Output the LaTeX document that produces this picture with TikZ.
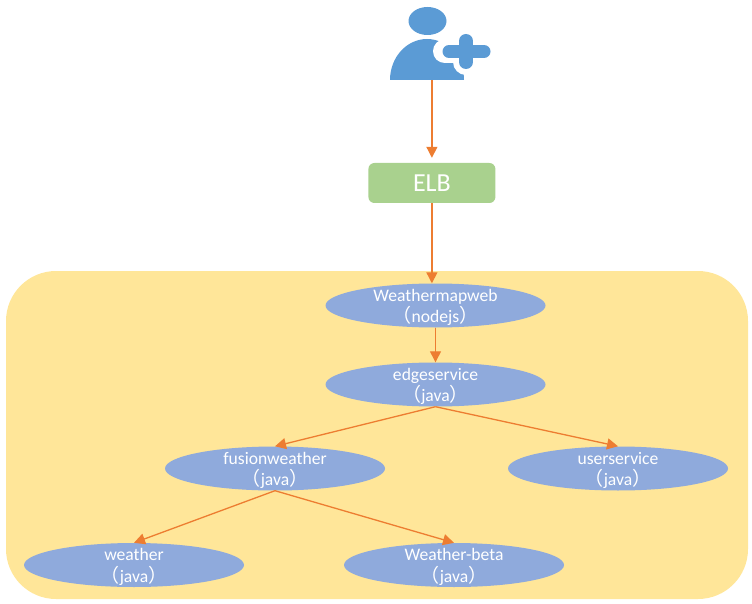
\documentclass[tikz,border=0pt]{standalone}
\usepackage{fontspec}
\setmainfont{Carlito}
\newfontfamily\cjkfont{Noto Sans CJK SC}
\usetikzlibrary{shapes.geometric,arrows.meta}
\definecolor{panelyellow}{HTML}{FFE699}
\definecolor{svcblue}{HTML}{8FAADC}
\definecolor{elbgreen}{HTML}{A9D18E}
\definecolor{linkorange}{HTML}{ED7D31}
\definecolor{iconblue}{HTML}{5B9BD5}
\newcommand{\fwl}{{\cjkfont\fontsize{19pt}{21.5pt}\selectfont（}}
\newcommand{\fwr}{{\cjkfont\fontsize{19pt}{21.5pt}\selectfont）}}
\tikzset{
  svctext/.style={text=white,inner sep=0pt,align=center,yshift=-2pt,font=\fontsize{17.6pt}{21.5pt}\selectfont},
  svc/.style={ellipse,fill=svcblue,minimum width=220pt,minimum height=44pt,inner sep=0pt,
    label={[svctext]center:#1}},
  link/.style={draw=linkorange,line width=1.3pt,-{Triangle[width=11pt,length=11pt]}},
}
\begin{document}
\begin{tikzpicture}[x=1pt,y=-1pt]
\useasboundingbox (0,0) rectangle (752,604);
\fill[panelyellow,rounded corners=50pt] (6,271) rectangle (748,599);
% user icon
\fill[iconblue] (427.5,21) ellipse [x radius=19,y radius=14];
\fill[iconblue] (390,80) .. controls (390,57.4) and (406.6,39) .. (427,39) .. controls (447.4,39) and (464,57.4) .. (464,80) -- cycle;
\draw[white,line width=24pt,line cap=round] (445,51.5) -- (483,51.5);
\draw[white,line width=26pt,line cap=round] (466,41) -- (466,62);
\draw[iconblue,line width=13pt,line cap=round] (449,51.5) -- (484,51.5);
\draw[iconblue,line width=14pt,line cap=round] (466,41) -- (466,62);
\coordinate (userout) at (431.9,80);
\node[fill=elbgreen,rounded corners=6pt,minimum width=127pt,minimum height=40pt,inner sep=0pt,text=white,font=\fontsize{26pt}{28pt}\selectfont] (elb) at (431.9,183) {ELB};
\node[svc={Weathermapweb\\\fwl nodejs\fwr}] (web) at (435.5,305.5) {};
\node[svc={edgeservice\\\fwl java\fwr}] (edge) at (435.5,384.5) {};
\node[svc={fusionweather\\\fwl java\fwr}] (fusion) at (275,468.5) {};
\node[svc={userservice\\\fwl java\fwr}] (user) at (618,468.5) {};
\node[svc={weather\\\fwl java\fwr}] (weather) at (134,565) {};
\node[svc={Weather-beta\\\fwl java\fwr}] (beta) at (454,565) {};
\draw[link,shorten >=5pt] (userout) -- (elb.north);
\draw[link] (elb.south) -- (elb.south |- web.north);
\draw[link] (web.south) -- (edge.north);
\draw[link] (edge.south) -- (fusion.north);
\draw[link] (edge.south) -- (user.north);
\draw[link] (fusion.south) -- (weather.north);
\draw[link] (fusion.south) -- (beta.north);
\end{tikzpicture}
\end{document}
